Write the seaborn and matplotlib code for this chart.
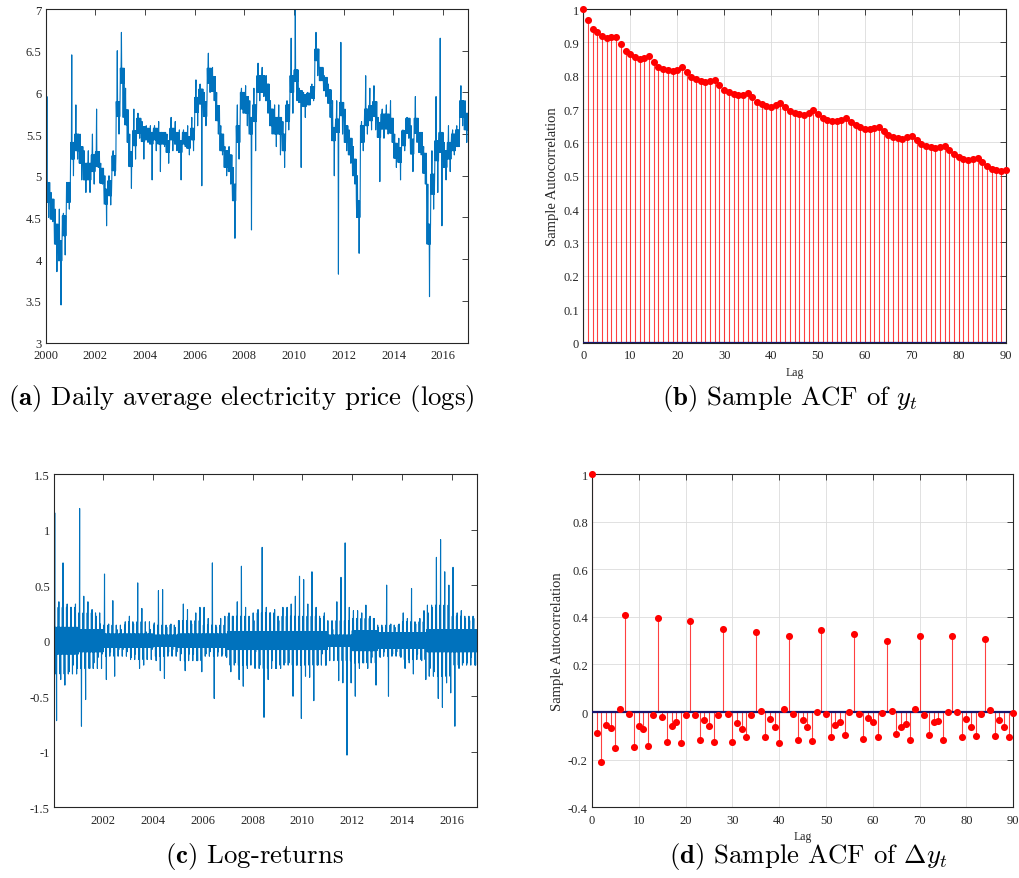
import numpy as np
import pandas as pd
import matplotlib.pyplot as plt
import seaborn as sns

# --- data ---
# (a) log price per two-month block, 2000-2016: typical level, high, low
price_lvl = [4.8, 4.6, 4.3, 4.1, 4.4, 4.8,       # 2000
             5.3, 5.4, 5.25, 5.05, 5.05, 5.15,   # 2001
             5.2, 5.0, 4.75, 4.85, 5.15, 5.8,    # 2002
             6.2, 5.7, 5.2, 5.45, 5.6, 5.5,      # 2003
             5.5, 5.45, 5.5, 5.45, 5.45, 5.35,   # 2004
             5.5, 5.45, 5.35, 5.45, 5.4, 5.5,    # 2005
             5.85, 5.95, 5.8, 6.2, 6.1, 5.75,    # 2006
             5.4, 5.2, 5.15, 4.8, 5.5, 5.9,      # 2007
             5.85, 5.6, 5.75, 6.1, 6.1, 6.0,     # 2008
             5.7, 5.6, 5.6, 5.4, 5.75, 6.1,      # 2009
             6.2, 5.95, 5.9, 5.92, 6.0, 6.45,    # 2010
             6.22, 6.1, 5.95, 5.5, 5.6, 5.8,     # 2011
             5.5, 5.35, 5.1, 4.6, 5.5, 5.7,      # 2012
             5.75, 5.8, 5.55, 5.65, 5.65, 5.6,   # 2013
             5.3, 5.25, 5.45, 5.6, 5.35, 5.6,    # 2014
             5.4, 5.15, 4.3, 4.9, 5.3, 5.4,      # 2015
             5.2, 5.3, 5.4, 5.45, 5.8, 5.65]     # 2016
price_hi = [5.95, 4.8, 4.6, 4.6, 4.55, 4.9,
            6.45, 5.85, 5.5, 5.3, 5.3, 5.5,
            5.8, 5.15, 5.0, 5.0, 5.3, 6.5,
            6.72, 6.05, 5.5, 5.8, 5.75, 5.65,
            5.6, 5.6, 5.6, 5.65, 5.5, 5.5,
            5.7, 5.65, 5.55, 5.55, 5.6, 5.7,
            6.15, 6.1, 6.0, 6.47, 6.3, 6.0,
            5.6, 5.35, 5.35, 5.1, 5.85, 6.05,
            6.08, 5.9, 6.05, 6.35, 6.3, 6.2,
            5.9, 5.85, 5.85, 5.65, 5.9, 6.65,
            7.0, 6.05, 6.0, 6.0, 6.1, 6.72,
            6.3, 6.2, 6.1, 5.9, 5.9, 6.6,
            5.8, 5.55, 5.35, 5.0, 5.65, 6.2,
            6.05, 6.08, 5.7, 5.8, 5.85, 5.9,
            5.5, 5.45, 5.55, 5.7, 5.6, 5.95,
            5.5, 5.35, 4.9, 5.3, 5.95, 6.65,
            5.4, 5.6, 5.55, 5.6, 6.08, 5.9]
price_lo = [4.5, 4.45, 3.85, 3.45, 4.05, 4.6,
            5.0, 5.2, 4.95, 4.8, 4.8, 4.9,
            5.1, 4.9, 4.4, 4.65, 5.0, 5.5,
            5.7, 5.4, 4.85, 5.2, 5.45, 5.2,
            5.4, 4.95, 5.3, 5.05, 5.35, 5.15,
            5.3, 5.3, 4.95, 5.35, 5.25, 5.3,
            5.6, 4.88, 5.6, 6.0, 5.9, 5.5,
            5.25, 5.0, 4.9, 4.25, 5.2, 5.75,
            5.6, 4.35, 5.3, 5.9, 5.95, 5.75,
            5.5, 5.35, 5.25, 5.1, 5.55, 5.75,
            5.9, 5.1, 5.7, 5.85, 5.9, 6.2,
            6.15, 5.95, 5.7, 5.0, 3.82, 5.5,
            5.3, 5.15, 4.9, 4.07, 5.3, 5.5,
            5.55, 5.55, 4.93, 5.45, 5.5, 5.4,
            5.1, 4.95, 5.3, 5.45, 5.05, 5.4,
            5.25, 4.9, 3.55, 4.6, 4.8, 4.4,
            4.95, 5.05, 5.25, 5.35, 5.6, 5.4]
# half-width of the dense price band, per year
price_band = [0.12, 0.1, 0.09, 0.09, 0.07, 0.07, 0.09, 0.1, 0.1,
              0.1, 0.07, 0.08, 0.1, 0.09, 0.09, 0.12, 0.1]

# (c) log-returns: spike high / low per two-month block
ret_hi = [1.15, 0.35, 0.7, 0.33, 0.3, 0.33,
          1.19, 0.4, 0.35, 0.28, 0.22, 0.15,
          0.6, 0.15, 0.36, 0.1, 0.1, 0.17,
          0.22, 0.15, 0.52, 0.29, 0.08, 0.1,
          0.16, 0.45, 0.46, 0.12, 0.15, 0.12,
          0.18, 0.33, 0.28, 0.15, 0.25, 0.3,
          0.3, 0.2, 0.7, 0.12, 0.2, 0.22,
          0.25, 0.22, 0.35, 0.67, 0.3, 0.08,
          0.18, 0.28, 0.84, 0.3, 0.25, 0.28,
          0.18, 0.3, 0.3, 0.33, 0.4, 0.58,
          0.55, 0.33, 0.62, 0.3, 0.2, 0.25,
          0.05, 0.1, 0.35, 0.57, 0.88, 0.3,
          0.27, 0.27, 0.25, 0.32, 0.22, 0.2,
          0.12, 0.12, 0.5, 0.15, 0.12, 0.15,
          0.25, 0.2, 0.47, 0.15, 0.2, 0.27,
          0.25, 0.3, 0.75, 0.91, 0.62, 0.5,
          0.66, 0.25, 0.27, 0.2, 0.18, 0.2]
ret_lo = [-0.72, -0.35, -0.4, -0.28, -0.22, -0.25,
          -0.77, -0.53, -0.25, -0.2, -0.15, -0.12,
          -0.35, -0.1, -0.32, -0.08, -0.08, -0.1,
          -0.15, -0.12, -0.25, -0.22, -0.06, -0.08,
          -0.18, -0.27, -0.34, -0.1, -0.08, -0.1,
          -0.12, -0.27, -0.12, -0.12, -0.18, -0.28,
          -0.12, -0.1, -0.52, -0.1, -0.12, -0.15,
          -0.28, -0.2, -0.35, -0.41, -0.25, -0.06,
          -0.1, -0.22, -0.69, -0.35, -0.18, -0.25,
          -0.25, -0.2, -0.2, -0.5, -0.22, -0.7,
          -0.32, -0.33, -0.54, -0.22, -0.12, -0.22,
          -0.04, -0.05, -0.36, -0.38, -1.03, -0.38,
          -0.5, -0.25, -0.2, -0.25, -0.15, -0.4,
          -0.15, -0.1, -0.5, -0.12, -0.1, -0.15,
          -0.25, -0.2, -0.3, -0.12, -0.18, -0.35,
          -0.25, -0.28, -0.52, -0.6, -0.38, -0.47,
          -0.77, -0.25, -0.2, -0.2, -0.15, -0.22]
# dense core and typical fringe of the returns, per year
ret_core = [0.12, 0.1, 0.06, 0.06, 0.05, 0.06, 0.06, 0.08, 0.08,
            0.08, 0.08, 0.05, 0.09, 0.07, 0.07, 0.1, 0.1]
ret_fringe = [0.3, 0.25, 0.14, 0.17, 0.14, 0.18, 0.14, 0.22, 0.25,
              0.22, 0.22, 0.18, 0.2, 0.14, 0.17, 0.32, 0.22]

# (b) sample ACF of y_t, lags 0..90
acf_y = [1.0, 0.967, 0.941, 0.930, 0.919, 0.912, 0.915, 0.916, 0.895, 0.874,
         0.864, 0.856, 0.851, 0.854, 0.858, 0.842, 0.827, 0.821, 0.817, 0.813,
         0.818, 0.825, 0.811, 0.797, 0.791, 0.785, 0.781, 0.784, 0.788, 0.772,
         0.758, 0.750, 0.744, 0.741, 0.743, 0.749, 0.735, 0.721, 0.714, 0.709,
         0.706, 0.711, 0.718, 0.705, 0.693, 0.689, 0.686, 0.683, 0.689, 0.697,
         0.685, 0.673, 0.668, 0.665, 0.663, 0.667, 0.674, 0.662, 0.651, 0.645,
         0.641, 0.639, 0.642, 0.646, 0.633, 0.622, 0.617, 0.613, 0.611, 0.615,
         0.619, 0.606, 0.595, 0.590, 0.586, 0.583, 0.586, 0.590, 0.576, 0.564,
         0.557, 0.551, 0.547, 0.549, 0.553, 0.540, 0.528, 0.521, 0.516, 0.513,
         0.516]

# (d) sample ACF of delta y_t, lags 0..90
acf_dy = [1.0, -0.087, -0.208, -0.055, -0.067, -0.150, 0.011, 0.408, -0.010, -0.147,
          -0.059, -0.069, -0.141, -0.013, 0.396, -0.020, -0.127, -0.060, -0.042, -0.131,
          -0.011, 0.383, -0.011, -0.117, -0.032, -0.059, -0.127, -0.013, 0.350, -0.010,
          -0.126, -0.045, -0.069, -0.105, -0.011, 0.336, 0.003, -0.105, -0.027, -0.063,
          -0.129, 0.013, 0.319, -0.008, -0.116, -0.032, -0.062, -0.122, 0.001, 0.344,
          -0.006, -0.103, -0.055, -0.043, -0.098, 0.001, 0.329, -0.007, -0.115, -0.025,
          -0.041, -0.103, -0.004, 0.299, 0.003, -0.092, -0.063, -0.050, -0.119, 0.013,
          0.320, -0.014, -0.095, -0.043, -0.038, -0.117, 0.001, 0.319, -0.001, -0.105,
          -0.028, -0.062, -0.099, -0.007, 0.305, 0.010, -0.101, -0.035, -0.062, -0.105,
          -0.004]

captions = [r"$\mathbf{(a)}$ Daily average electricity price (logs)",
            r"$\mathbf{(b)}$ Sample ACF of $y_t$",
            r"$\mathbf{(c)}$ Log-returns",
            r"$\mathbf{(d)}$ Sample ACF of $\Delta y_t$"]

# --- style ---
sns.set_style("white")
plt.rcParams["font.family"] = ["Liberation Serif", "DejaVu Serif"]
plt.rcParams["mathtext.fontset"] = "cm"
plt.rcParams["axes.unicode_minus"] = False

blue = "#0072BD"
ink = "#262626"


def matlab_axes(ax):
    for s in ax.spines.values():
        s.set_color(ink)
        s.set_linewidth(0.8)
    ax.tick_params(direction="in", top=True, right=True, length=4, width=0.6,
                   colors=ink, labelsize=9, pad=3)


fig = plt.figure(figsize=(10.2, 8.79), dpi=100)
ax_a = fig.add_axes([0.0448, 0.6092, 0.4140, 0.3794])
ax_b = fig.add_axes([0.5719, 0.6092, 0.4141, 0.3794])
ax_c = fig.add_axes([0.0529, 0.0804, 0.4144, 0.3792])
ax_d = fig.add_axes([0.5804, 0.0804, 0.4130, 0.3792])

# (a) price: dense band around the level, with the block's high and low
n_blk = len(price_lvl)
y_price = []
for k in range(n_blk):
    lv, d = price_lvl[k], price_band[k // 6]
    y_price += [lv + d, lv - d, lv + d, price_hi[k], lv - d, lv + d, lv - d,
                lv + d, price_lo[k], lv + d, lv - d, lv + d]
n_sub = 12
x_price = 2000 + np.repeat(np.arange(n_blk) / 6, n_sub) + np.tile((np.arange(n_sub) + 0.5) / (6 * n_sub), n_blk)
sns.lineplot(x=x_price, y=y_price, ax=ax_a, color=blue, lw=0.8, sort=False, estimator=None)
ax_a.set_xlim(2000, 2017)
ax_a.set_ylim(3, 7)
ax_a.set_xticks(np.arange(2000, 2017, 2))
ax_a.set_xticklabels([str(y) for y in range(2000, 2017, 2)])
ax_a.set_yticks(np.arange(3, 7.01, 0.5))
ax_a.set_yticklabels(["3", "3.5", "4", "4.5", "5", "5.5", "6", "6.5", "7"])
matlab_axes(ax_a)
ax_a.tick_params(axis="x", pad=5)

# (c) log-returns
y_ret = []
for k in range(len(ret_hi)):
    c, f = ret_core[k // 6], ret_fringe[k // 6]
    y_ret += [c, -c, f, -c, c, ret_hi[k], -c, c, -c, c, -f, c, -c, ret_lo[k],
              c, -c, c, -c]
n_sub = 18
x_ret = 2000 + np.repeat(np.arange(len(ret_hi)) / 6, n_sub) + np.tile((np.arange(n_sub) + 0.5) / (6 * n_sub), len(ret_hi))
sns.lineplot(x=x_ret, y=y_ret, ax=ax_c, color=blue, lw=0.8, sort=False, estimator=None)
ax_c.set_xlim(2000.02, 2017.0)
ax_c.set_ylim(-1.5, 1.5)
ax_c.set_xticks(np.arange(2002, 2017, 2))
ax_c.set_xticklabels([str(y) for y in range(2002, 2017, 2)])
ax_c.set_yticks(np.arange(-1.5, 1.51, 0.5))
ax_c.set_yticklabels(["-1.5", "-1", "-0.5", "0", "0.5", "1", "1.5"])
matlab_axes(ax_c)
ax_c.tick_params(axis="x", pad=5)

# (b), (d) stem plots
lags = np.arange(len(acf_y))
for ax, acf, ylim, yt in [(ax_b, acf_y, (0, 1), np.arange(0, 1.01, 0.1)),
                          (ax_d, acf_dy, (-0.4, 1), np.arange(-0.4, 1.01, 0.2))]:
    ax.grid(True, color="#dcdcdc", lw=0.6)
    ax.set_axisbelow(True)
    ax.vlines(lags, 0, acf, color="red", lw=0.8, alpha=0.75)
    sns.scatterplot(x=lags, y=acf, ax=ax, color="red", edgecolor="red", s=26,
                    linewidth=0, clip_on=False, zorder=4)
    ax.axhline(0, color="#16166e", lw=1.6, zorder=3)
    ax.set_xlim(0, 90)
    ax.set_ylim(*ylim)
    ax.set_xticks(np.arange(0, 91, 10))
    ax.set_yticks(yt)
    ax.set_yticklabels(["%g" % round(v, 1) for v in yt])
    ax.set_xlabel("Lag", fontsize=8.5, labelpad=3, color=ink)
    ax.set_ylabel("Sample Autocorrelation", fontsize=10.5, labelpad=3, color=ink)
    matlab_axes(ax)
    ax.tick_params(axis="x", pad=5)

# captions
cap_pos = [(241, 399), (790, 399), (254, 857), (808, 857)]
for (px, py), txt in zip(cap_pos, captions):
    fig.text(px / 1020, 1 - py / 879, txt, ha="center", va="center",
             fontsize=19.3, family="cmr10", color="black")

plt.savefig("out.png", dpi=100)
